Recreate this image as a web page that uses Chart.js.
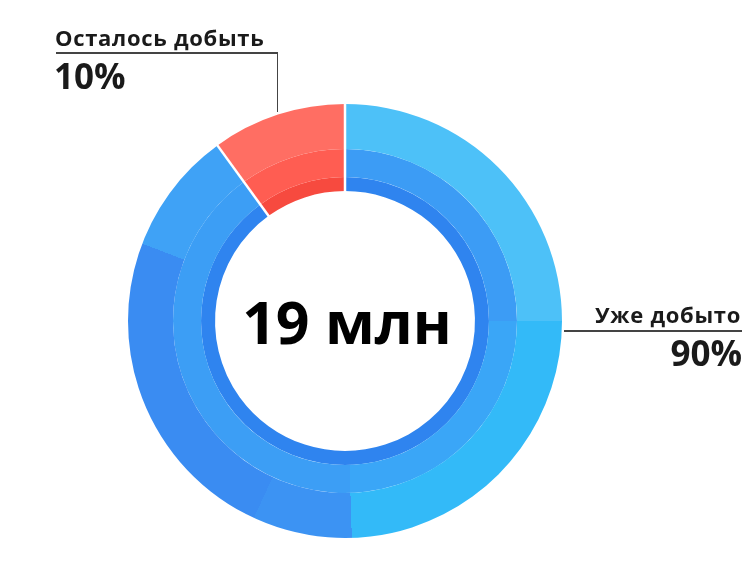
<!DOCTYPE html>
<html>
<head>
<meta charset="utf-8">
<script src="https://cdn.jsdelivr.net/npm/chart.js@4/dist/chart.umd.min.js"></script>
<style>
  html, body { margin: 0; padding: 0; background: #fff; }
  #wrap { position: relative; width: 750px; height: 579px; overflow: hidden; }
  #c { position: absolute; left: 0; top: 0; }
  .lbl { position: absolute; font-family: "Open Sans", sans-serif; font-weight: 700; color: #1a1a1a; white-space: nowrap; line-height: 1; }
  .ln { position: absolute; background: #444; }
</style>
</head>
<body>
<div id="wrap">
  <canvas id="c" width="750" height="579"></canvas>
</div>
<script>
// ---- data ----
const categories = ["Уже добыто", "Осталось добыть"];
const shares = [90, 10];
const percentLabels = ["90%", "10%"];
const centerLabel = "19 млн";
const ringNames = ["outer", "middle", "inner"];
const ringWeights = [45, 28, 14];

// ---- colours (styles) ----
const redColors = ["#FF6E63", "#FF5D52", "#F74A3F"];
const blueStops = [
  [[0, "#4DC1F8"], [0.25, "#4DC1F8"], [0.25, "#33BAF8"], [0.495, "#33BAF8"], [0.495, "#3C93F3"], [0.569, "#3C93F3"], [0.569, "#3A8CF2"], [0.808, "#3A8CF2"], [0.808, "#3FA2F6"], [1, "#3FA2F6"]],
  [[0, "#3C9CF5"], [0.25, "#3C9CF5"], [0.25, "#3AA6F7"], [0.495, "#3AA6F7"], [0.495, "#3C9EF5"], [1, "#3C9EF5"]],
  [[0, "#2F84EF"], [1, "#2F84EF"]]
];

const gradCache = {};
function blueGradient(chart, ring) {
  const a = chart.chartArea;
  if (!a) return blueStops[ring][0][1];
  const cx = (a.left + a.right) / 2, cy = (a.top + a.bottom) / 2;
  const key = ring + ":" + cx + ":" + cy;
  if (gradCache[key]) return gradCache[key];
  const g = chart.ctx.createConicGradient(-Math.PI / 2, cx, cy);
  blueStops[ring].forEach(([o, c]) => g.addColorStop(o, c));
  gradCache[key] = g;
  return g;
}

const datasets = ringNames.map((name, ring) => ({
  label: name,
  data: shares,
  weight: ringWeights[ring],
  backgroundColor: (ctx) => ctx.dataIndex === 1 ? redColors[ring] : blueGradient(ctx.chart, ring),
  borderWidth: 0,
  hoverOffset: 0,
  offset: 0
}));

// white separators along the boundaries of the red slice, taken from the arc elements
const separatorPlugin = {
  id: "separators",
  afterDatasetsDraw(chart) {
    const n = chart.data.datasets.length;
    const outer = chart.getDatasetMeta(0).data[1];
    const inner = chart.getDatasetMeta(n - 1).data[1];
    if (!outer || !inner) return;
    const ctx = chart.ctx;
    ctx.save();
    ctx.strokeStyle = "#ffffff";
    ctx.lineWidth = 2.5;
    [outer.startAngle, outer.endAngle].forEach(a => {
      ctx.beginPath();
      ctx.moveTo(outer.x + Math.cos(a) * (inner.innerRadius - 1), outer.y + Math.sin(a) * (inner.innerRadius - 1));
      ctx.lineTo(outer.x + Math.cos(a) * (outer.outerRadius + 1), outer.y + Math.sin(a) * (outer.outerRadius + 1));
      ctx.stroke();
    });
    ctx.restore();
  }
};

new Chart(document.getElementById("c"), {
  type: "doughnut",
  data: { labels: categories, datasets: datasets },
  options: {
    responsive: false,
    animation: false,
    cutout: "59.9%",
    rotation: 0,
    layout: { padding: { left: 128, right: 188, top: 104, bottom: 41 } },
    plugins: { legend: { display: false }, tooltip: { enabled: false } },
    events: []
  },
  plugins: [separatorPlugin]
});

// ---- text labels ----
const wrap = document.getElementById("wrap");
function addDiv(cls, text, css) {
  const d = document.createElement("div");
  d.className = cls;
  if (text) d.textContent = text;
  Object.assign(d.style, css);
  wrap.appendChild(d);
  return d;
}
addDiv("lbl", categories[1], { left: "55px", top: "26px", fontSize: "22px", letterSpacing: "0.7px" });
addDiv("lbl", percentLabels[1], { left: "54px", top: "58px", fontSize: "35px" });
addDiv("ln", "", { left: "56px", top: "52px", width: "222px", height: "1.5px" });
addDiv("ln", "", { left: "276.5px", top: "52px", width: "1.5px", height: "60px" });

addDiv("lbl", categories[0], { right: "9px", top: "303px", fontSize: "22px", letterSpacing: "0.7px" });
addDiv("ln", "", { left: "564px", top: "330px", width: "178px", height: "1.5px" });
addDiv("lbl", percentLabels[0], { right: "8px", top: "335px", fontSize: "35px" });

addDiv("", centerLabel, { position: "absolute", left: "347px", top: "321px", transform: "translate(-50%, -50%)", fontFamily: "'Open Sans', sans-serif", fontWeight: "700", fontSize: "59px", color: "#000", whiteSpace: "nowrap", lineHeight: "1" });
</script>
</body>
</html>
